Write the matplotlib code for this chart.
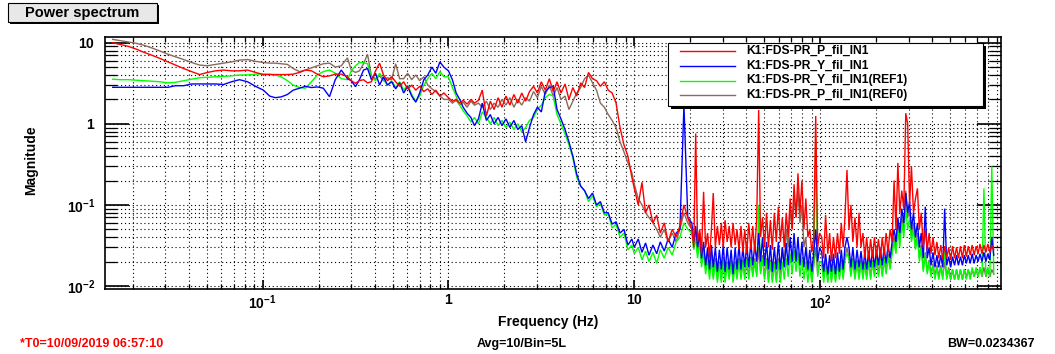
import matplotlib
matplotlib.use("Agg")
import matplotlib.pyplot as plt
from matplotlib.patches import Rectangle
from matplotlib.lines import Line2D
from matplotlib.ticker import LogLocator, NullFormatter, FixedLocator

plt.rcParams['font.family'] = ['Liberation Sans', 'DejaVu Sans']
plt.rcParams['mathtext.fontset'] = 'custom'
plt.rcParams['mathtext.rm'] = 'Liberation Sans'
plt.rcParams['mathtext.bf'] = 'Liberation Sans:bold'

# ---------------- data ----------------
freq_hz = [
    0.0156, 0.0172, 0.019, 0.021, 0.023, 0.0254, 0.028, 0.031, 0.034, 0.0376,
    0.0415, 0.0458, 0.0505, 0.0558, 0.0616, 0.068, 0.075, 0.083, 0.0915,
    0.101, 0.109, 0.117, 0.126, 0.136, 0.146, 0.158, 0.17, 0.183, 0.197,
    0.212, 0.229, 0.246, 0.265, 0.286,
    0.3, 0.316, 0.332, 0.349, 0.367, 0.385, 0.405, 0.426, 0.447, 0.47,
    0.494, 0.52, 0.546, 0.574, 0.603, 0.634, 0.667, 0.7, 0.737, 0.774,
    0.814, 0.855, 0.899, 0.945,
    1.0, 1.05, 1.1, 1.15, 1.2, 1.26, 1.32, 1.38, 1.45, 1.52,
    1.6, 1.68, 1.76, 1.85, 1.94, 2.04, 2.14, 2.25, 2.36, 2.48,
    2.6, 2.73, 2.87, 3.01, 3.16, 3.32, 3.49, 3.66, 3.84, 4.03,
    4.24, 4.45, 4.67, 4.9, 5.15, 5.4, 5.67, 5.96, 6.26, 6.57,
    6.9, 7.24, 7.6, 7.98, 8.38, 8.8, 9.24, 9.7,
    10.0, 10.5, 11.0, 11.5, 12.0, 12.6, 13.2, 13.8, 14.5, 15.2,
    16.0, 16.8, 17.6, 18.5, 19.4,
    20.4, 20.9, 21.4, 21.9, 22.5, 23.0, 23.6, 24.2, 24.8, 25.4,
    26.0, 26.6, 27.3, 28.0, 28.7, 29.4, 30.1, 30.8, 31.6, 32.4,
    33.2, 34.0, 34.9, 35.7, 36.6, 37.5, 38.4, 39.3, 40.3, 41.3,
    42.4, 43.4, 44.5, 45.6, 46.7, 47.8, 49.0, 50.2, 51.5, 52.7,
    54.0, 55.3, 56.7, 58.1, 59.6, 61.1, 62.6, 64.1, 65.7, 67.3,
    69.0, 70.7, 72.4, 74.2, 76.0, 77.9, 79.8, 81.8, 83.8, 85.9,
    88.0, 90.2, 92.4, 94.7, 97.0, 99.4,
    102, 104.5, 107, 110, 112.5, 115, 118, 121, 124, 127,
    130, 133, 136, 139.5, 143, 146.5, 150, 154, 158, 162,
    166, 170, 174, 178, 182.5, 187, 191.5, 196, 201, 206,
    211, 216, 221, 226.5, 232, 238, 244, 250, 256, 262,
    268.5, 275, 282, 289, 296, 303, 310, 318, 326, 334,
    342, 350, 359, 368, 377, 386, 395, 405, 415, 425,
    435, 446, 457, 468, 480, 492, 504, 516, 529, 542,
    555, 569, 583, 597, 612, 627, 642, 658, 674, 691,
    708, 725, 743, 761, 780, 799, 819, 839, 860,
]

p_fil_in1 = [
    10, 9.5, 9.0, 8.3, 7.6, 7.0, 6.4, 5.8, 5.3, 4.8,
    4.4, 4.05, 4.3, 4.5, 4.6, 4.5, 4.5, 4.6, 4.3,
    4.05, 4.05, 4.05, 4.05, 4.05, 4.1, 4.3, 4.6, 4.5, 4.1,
    3.8, 3.9, 4.1, 4.1, 3.8,
    3.4, 3.16, 3.4, 3.5, 3.2, 3.3, 4.5, 5.6, 4.0, 3.4,
    3.8, 3.3, 2.9, 3.3, 2.7, 3.0, 2.6, 2.9, 2.5, 2.7,
    2.3, 2.6, 2.2, 2.4,
    2.1, 1.9, 2.0, 1.8, 1.95, 1.75, 2.0, 1.8, 1.95, 2.6,
    1.25, 1.9, 1.5, 2.1, 1.6, 2.2, 1.7, 2.3, 1.8, 2.4,
    1.9, 2.5, 2.9, 2.4, 3.3, 2.6, 3.6, 2.5, 3.3, 2.4,
    3.1, 2.0, 2.8, 2.2, 3.2, 2.8, 4.3, 3.6, 3.4, 2.9,
    3.3, 2.6, 2.4, 1.8, 0.9, 0.55, 0.4, 0.22,
    0.16, 0.1, 0.19, 0.08, 0.1, 0.06, 0.075, 0.045, 0.06, 0.035,
    0.05, 0.04, 0.055, 0.1, 0.07,
    0.05, 0.03, 0.76, 0.035, 0.05, 0.025, 0.145, 0.03, 0.045, 0.022,
    0.05, 0.14, 0.03, 0.055, 0.032, 0.06, 0.03, 0.065, 0.035, 0.055,
    0.03, 0.06, 0.032, 0.05, 0.028, 0.055, 0.026, 0.05, 0.025, 0.06,
    0.028, 0.055, 0.026, 0.07, 1.48, 0.04, 0.07, 0.03, 0.08, 0.03,
    0.065, 0.028, 0.08, 0.035, 0.095, 0.035, 0.07, 0.03, 0.08, 0.04,
    0.12, 0.05, 0.18, 0.07, 0.245, 0.08, 0.2, 0.05, 0.12, 0.04,
    0.05, 0.026, 0.04, 1.25, 0.03, 0.045,
    0.04, 0.022, 0.075, 0.025, 0.045, 0.02, 0.04, 0.022, 0.045, 0.025,
    0.06, 0.03, 0.07, 0.27, 0.05, 0.1, 0.035, 0.07, 0.03, 0.08,
    0.03, 0.045, 0.022, 0.04, 0.021, 0.038, 0.022, 0.04, 0.023, 0.038,
    0.022, 0.04, 0.024, 0.045, 0.026, 0.05, 0.035, 0.2, 0.05, 0.33,
    0.08, 0.15, 0.09, 1.35, 1.0, 0.1, 0.3, 0.08, 0.12, 0.16,
    0.05, 0.08, 0.03, 0.05, 0.028, 0.045, 0.025, 0.04, 0.024, 0.035,
    0.022, 0.032, 0.021, 0.031, 0.022, 0.03, 0.021, 0.031, 0.022, 0.03,
    0.022, 0.031, 0.022, 0.032, 0.023, 0.031, 0.024, 0.032, 0.024, 0.031,
    0.025, 0.033, 0.025, 0.032, 0.026, 0.033, 0.026, 0.032, 0.028,
]

y_fil_in1 = [
    2.82, 2.82, 2.82, 2.82, 2.82, 2.82, 2.82, 2.82, 2.95, 2.95,
    3.1, 3.1, 3.1, 3.1, 3.05, 3.3, 3.5, 3.3, 2.9,
    2.6, 2.2, 2.1, 2.15, 2.3, 2.6, 2.75, 2.9, 2.8, 2.85,
    2.75, 2.16, 3.5, 4.6, 3.6,
    3.4, 2.87, 3.5, 4.6, 4.8, 3.5, 4.2, 3.0, 3.8, 3.0,
    3.3, 2.7, 3.2, 2.4, 2.9, 2.2, 1.85, 2.4, 3.5, 4.0,
    5.0, 4.2, 5.8, 5.0,
    4.5, 3.5, 2.4, 2.0, 1.6, 1.35, 1.2, 0.95, 1.15, 1.8,
    1.1, 1.3, 1.0, 1.2, 0.95, 1.15, 0.9, 1.1, 0.85, 0.95,
    0.6, 0.9, 1.3, 1.6, 1.4, 2.5, 2.8, 2.9, 1.5, 1.15,
    0.85, 0.6, 0.4, 0.24, 0.17, 0.15, 0.12, 0.14, 0.1, 0.11,
    0.08, 0.08, 0.058, 0.062, 0.045, 0.05, 0.032, 0.038,
    0.03, 0.038, 0.026, 0.034, 0.024, 0.032, 0.025, 0.035, 0.027, 0.038,
    0.03, 0.045, 0.05, 1.7, 0.07,
    0.06, 0.035, 0.055, 0.03, 0.045, 0.022, 0.035, 0.018, 0.03, 0.016,
    0.032, 0.017, 0.03, 0.015, 0.028, 0.016, 0.033, 0.015, 0.03, 0.016,
    0.028, 0.014, 0.03, 0.016, 0.032, 0.016, 0.03, 0.017, 0.033, 0.017,
    0.035, 0.018, 0.032, 0.02, 0.045, 0.02, 0.04, 0.018, 0.035, 0.016,
    0.032, 0.015, 0.03, 0.016, 0.035, 0.016, 0.03, 0.017, 0.034, 0.018,
    0.04, 0.02, 0.045, 0.02, 0.04, 0.018, 0.035, 0.017, 0.03, 0.016,
    0.028, 0.015, 0.026, 0.05, 0.02, 0.03,
    0.026, 0.015, 0.025, 0.014, 0.024, 0.015, 0.025, 0.014, 0.026, 0.015,
    0.028, 0.016, 0.03, 0.04, 0.03, 0.017, 0.03, 0.016, 0.028, 0.017,
    0.027, 0.016, 0.026, 0.016, 0.027, 0.017, 0.028, 0.017, 0.028, 0.018,
    0.029, 0.018, 0.03, 0.019, 0.032, 0.022, 0.035, 0.05, 0.035, 0.07,
    0.045, 0.09, 0.06, 0.14, 0.08, 0.11, 0.05, 0.08, 0.04, 0.06,
    0.03, 0.045, 0.022, 0.095, 0.022, 0.03, 0.018, 0.026, 0.017, 0.024,
    0.017, 0.024, 0.017, 0.09, 0.018, 0.023, 0.017, 0.023, 0.018, 0.024,
    0.018, 0.023, 0.018, 0.024, 0.019, 0.024, 0.019, 0.025, 0.019, 0.024,
    0.02, 0.025, 0.02, 0.026, 0.02, 0.025, 0.021, 0.04, 0.024,
]

y_fil_in1_ref1 = [
    3.55, 3.5, 3.5, 3.45, 3.4, 3.35, 3.3, 3.2, 3.25, 3.4,
    3.55, 3.7, 3.75, 3.8, 3.85, 3.9, 4.0, 4.0, 4.1,
    4.1, 4.1, 4.0, 3.8, 3.4, 3.0, 2.8, 2.75, 3.3, 4.0,
    4.4, 4.6, 4.2, 3.6, 3.5,
    4.5, 5.2, 5.7, 5.7, 5.5, 3.8, 3.4, 4.2, 3.5, 3.0,
    3.4, 2.8, 3.3, 2.6, 3.0, 2.3, 1.9, 2.2, 3.0, 3.6,
    4.2, 3.6, 4.4, 3.8,
    3.8, 2.8, 2.2, 1.7, 1.45, 1.25, 1.05, 1.2, 1.0, 1.4,
    1.2, 1.0, 1.2, 0.95, 1.1, 0.9, 1.05, 0.85, 1.0, 0.8,
    0.9, 1.1, 1.2, 1.5, 1.7, 2.1, 2.3, 2.2, 1.3, 1.0,
    0.75, 0.55, 0.38, 0.22, 0.17, 0.15, 0.11, 0.13, 0.095, 0.105,
    0.075, 0.078, 0.052, 0.058, 0.04, 0.045, 0.028, 0.032,
    0.025, 0.03, 0.021, 0.027, 0.02, 0.026, 0.019, 0.028, 0.022, 0.03,
    0.024, 0.035, 0.04, 0.06, 0.05,
    0.045, 0.028, 0.04, 0.022, 0.035, 0.017, 0.026, 0.014, 0.022, 0.012,
    0.021, 0.012, 0.02, 0.011, 0.019, 0.011, 0.021, 0.011, 0.019, 0.012,
    0.02, 0.011, 0.019, 0.012, 0.021, 0.012, 0.02, 0.012, 0.021, 0.012,
    0.022, 0.013, 0.02, 0.013, 0.1, 0.014, 0.022, 0.012, 0.021, 0.011,
    0.02, 0.011, 0.019, 0.011, 0.02, 0.011, 0.02, 0.012, 0.022, 0.013,
    0.025, 0.014, 0.028, 0.015, 0.026, 0.013, 0.022, 0.012, 0.02, 0.011,
    0.019, 0.011, 0.018, 0.65, 0.013, 0.02,
    0.019, 0.011, 0.018, 0.011, 0.019, 0.011, 0.018, 0.011, 0.019, 0.012,
    0.02, 0.012, 0.021, 0.025, 0.022, 0.013, 0.021, 0.012, 0.02, 0.012,
    0.02, 0.012, 0.019, 0.012, 0.02, 0.012, 0.02, 0.013, 0.021, 0.013,
    0.021, 0.013, 0.022, 0.014, 0.023, 0.016, 0.025, 0.035, 0.025, 0.05,
    0.03, 0.06, 0.04, 0.09, 0.05, 0.07, 0.035, 0.05, 0.028, 0.04,
    0.02, 0.03, 0.015, 0.025, 0.014, 0.02, 0.013, 0.018, 0.012, 0.017,
    0.012, 0.017, 0.012, 0.03, 0.012, 0.016, 0.012, 0.016, 0.012, 0.016,
    0.012, 0.016, 0.012, 0.016, 0.012, 0.016, 0.012, 0.017, 0.013, 0.017,
    0.013, 0.017, 0.013, 0.16, 0.013, 0.017, 0.013, 0.3, 0.014,
]

p_fil_in1_ref0 = [
    11.0, 10.6, 10.2, 9.8, 9.3, 8.6, 7.9, 7.2, 6.7, 6.2,
    5.7, 5.3, 5.2, 5.4, 5.6, 5.8, 6.1, 6.2, 5.9,
    5.7, 5.6, 5.6, 5.5, 5.4, 4.8, 4.4, 4.6, 4.9, 5.2,
    5.5, 5.6, 5.0, 5.2, 6.5,
    4.6, 4.3, 4.5, 5.5, 7.2, 3.9, 3.6, 3.9, 3.4, 3.7,
    3.5, 5.5, 3.6, 3.6, 4.2, 3.5, 4.0, 3.4, 3.8, 3.0,
    2.7, 2.5, 2.2, 2.0,
    2.0, 1.8, 1.95, 1.7, 1.85, 1.6, 1.9, 1.7, 1.8, 1.6,
    1.9, 1.5, 1.8, 1.6, 2.0, 1.7, 2.1, 1.6, 2.0, 1.7,
    2.1, 1.9, 2.5, 2.1, 2.9, 2.3, 3.0, 2.2, 2.8, 2.0,
    2.2, 1.5, 1.9, 2.4, 2.8, 3.6, 4.0, 3.2, 2.6, 1.8,
    1.6, 1.3, 1.1, 0.9, 0.6, 0.45, 0.33, 0.25,
    0.18, 0.12, 0.1, 0.08, 0.07, 0.06, 0.05, 0.04, 0.05, 0.035,
    0.045, 0.035, 0.05, 0.08, 0.06,
    0.05, 0.03, 0.045, 0.025, 0.04, 0.02, 0.03, 0.016, 0.025, 0.014,
    0.024, 0.013, 0.022, 0.012, 0.02, 0.012, 0.022, 0.012, 0.02, 0.013,
    0.021, 0.012, 0.02, 0.013, 0.022, 0.013, 0.021, 0.013, 0.022, 0.013,
    0.023, 0.014, 0.022, 0.014, 0.03, 0.015, 0.024, 0.013, 0.022, 0.012,
    0.021, 0.012, 0.02, 0.012, 0.022, 0.013, 0.03, 0.018, 0.05, 0.03,
    0.09, 0.05, 0.13, 0.07, 0.15, 0.06, 0.1, 0.03, 0.04, 0.015,
    0.02, 0.012, 0.018, 0.03, 0.014, 0.02,
    0.02, 0.013, 0.02, 0.012, 0.02, 0.012, 0.019, 0.012, 0.02, 0.013,
    0.021, 0.013, 0.022, 0.03, 0.022, 0.014, 0.022, 0.013, 0.021, 0.013,
    0.021, 0.013, 0.02, 0.013, 0.021, 0.013, 0.021, 0.014, 0.022, 0.014,
    0.022, 0.014, 0.023, 0.015, 0.025, 0.018, 0.028, 0.04, 0.03, 0.06,
    0.035, 0.07, 0.05, 0.15, 0.07, 0.09, 0.04, 0.06, 0.03, 0.045,
    0.022, 0.032, 0.016, 0.026, 0.015, 0.021, 0.014, 0.019, 0.013, 0.018,
    0.013, 0.018, 0.013, 0.02, 0.013, 0.017, 0.012, 0.016, 0.012, 0.016,
    0.012, 0.016, 0.012, 0.016, 0.013, 0.016, 0.013, 0.016, 0.013, 0.016,
    0.013, 0.017, 0.013, 0.017, 0.013, 0.016, 0.013, 0.016, 0.014,
]

series_labels = ["K1:FDS-PR_P_fil_IN1", "K1:FDS-PR_Y_fil_IN1",
                 "K1:FDS-PR_Y_fil_IN1(REF1)", "K1:FDS-PR_P_fil_IN1(REF0)"]
series_values = [p_fil_in1, y_fil_in1, y_fil_in1_ref1, p_fil_in1_ref0]
series_colors = ["#ff0000", "#0000ff", "#00ff00", "#8a6a5c"]

x_ticks = [0.1, 1, 10, 100]
x_tick_labels = [r"$\mathbf{10^{-1}}$", r"$\mathbf{1}$", r"$\mathbf{10}$", r"$\mathbf{10^{2}}$"]
y_ticks = [0.01, 0.1, 1, 10]
y_tick_labels = [r"$\mathbf{10^{-2}}$", r"$\mathbf{10^{-1}}$", r"$\mathbf{1}$", r"$\mathbf{10}$"]

title_text = "Power spectrum"
x_label = "Frequency (Hz)"
y_label = "Magnitude"
footer_left = "*T0=10/09/2019 06:57:10"
footer_mid = "Avg=10/Bin=5L"
footer_right = "BW=0.0234367"

for v in series_values:
    assert len(v) == len(freq_hz), (len(v), len(freq_hz))

# ---------------- figure ----------------
W, H = 1055, 354
fig = plt.figure(figsize=(W / 100, H / 100), dpi=100)
fig.patch.set_facecolor("white")

ax_l, ax_r, ax_t, ax_b = 104.7, 1000.7, 37.0, 289.0
ax = fig.add_axes([ax_l / W, (H - ax_b) / H, (ax_r - ax_l) / W, (ax_b - ax_t) / H])

# draw order: references first, red on top
for idx in [3, 2, 1, 0]:
    ax.plot(freq_hz, series_values[idx], color=series_colors[idx], lw=1.0,
            solid_joinstyle="miter", zorder=3 + (3 - idx))

ax.set_xscale("log")
ax.set_yscale("log")
ax.set_xlim(0.01413, 937)
ax.set_ylim(0.00919, 11.76)

ax.xaxis.set_major_locator(FixedLocator(x_ticks))
ax.set_xticklabels(x_tick_labels)
ax.yaxis.set_major_locator(FixedLocator(y_ticks))
ax.set_yticklabels(y_tick_labels)
ax.xaxis.set_minor_locator(LogLocator(base=10, subs=[2, 3, 4, 5, 6, 7, 8, 9], numticks=20))
ax.yaxis.set_minor_locator(LogLocator(base=10, subs=[2, 3, 4, 5, 6, 7, 8, 9], numticks=20))
ax.xaxis.set_minor_formatter(NullFormatter())
ax.yaxis.set_minor_formatter(NullFormatter())

ax.grid(True, which="both", ls=(0, (1, 2.5)), color="black", lw=0.8)
ax.set_axisbelow(True)

ax.tick_params(which="both", direction="in", top=True, right=True, colors="black")
ax.tick_params(axis="y", which="major", length=17, width=1.2, labelsize=10, pad=7)
ax.tick_params(axis="y", which="minor", length=8.5, width=0.9)
ax.tick_params(axis="x", which="major", length=6.5, width=1.2, labelsize=10, pad=3)
ax.tick_params(axis="x", which="minor", length=3.5, width=0.9)
for sp in ax.spines.values():
    sp.set_linewidth(1.2)
    sp.set_color("black")

ax.set_xlabel(x_label, fontsize=10, fontweight="bold")
ax.xaxis.set_label_coords((548 - ax_l) / (ax_r - ax_l), (ax_b - 322) / (ax_b - ax_t))
ax.xaxis.label.set_va("center")
ax.set_ylabel(y_label, fontsize=10, fontweight="bold")
ax.yaxis.set_label_coords((31 - ax_l) / (ax_r - ax_l), (ax_b - 160) / (ax_b - ax_t))
ax.yaxis.label.set_va("center")

# ---------------- title box ----------------
def fig_rect(x0, y0, x1, y1, **kw):
    return Rectangle((x0 / W, 1 - y1 / H), (x1 - x0) / W, (y1 - y0) / H,
                     transform=fig.transFigure, **kw)

fig.add_artist(fig_rect(10, 5, 159, 24, facecolor="black", edgecolor="none", zorder=5))
fig.add_artist(fig_rect(8, 3, 157, 22, facecolor="#e8e8e8", edgecolor="black", lw=0.8, zorder=6))
fig.text((8 + 157) / 2 / W, 1 - 12.5 / H, title_text, ha="center", va="center",
         fontsize=10.5, fontweight="bold", zorder=7)

# ---------------- legend ----------------
lx0, ly0, lx1, ly1 = 668, 43, 983, 106
fig.add_artist(fig_rect(lx0 + 3, ly0 + 3, lx1 + 3, ly1 + 3, facecolor="black", edgecolor="none", zorder=10))
fig.add_artist(fig_rect(lx0, ly0, lx1, ly1, facecolor="white", edgecolor="black", lw=0.8, zorder=11))
row_y = [50.7, 65.5, 80.5, 95.3]
for lab, col, ry in zip(series_labels, series_colors, row_y):
    fig.add_artist(Line2D([680 / W, 735 / W], [1 - ry / H, 1 - ry / H], color=col, lw=1.0,
                          transform=fig.transFigure, zorder=12))
    fig.text(746 / W, 1 - ry / H, lab, ha="left", va="center", fontsize=8.7,
             fontweight="bold", zorder=12)

# ---------------- footer ----------------
fig.text(20 / W, 1 - 344 / H, footer_left, ha="left", va="center", fontsize=9,
         fontweight="bold", color="#ff0000")
fig.text(522 / W, 1 - 344 / H, footer_mid, ha="center", va="center", fontsize=9,
         fontweight="bold", color="black")
fig.text(1035 / W, 1 - 344 / H, footer_right, ha="right", va="center", fontsize=9,
         fontweight="bold", color="black")

fig.savefig("out.png", dpi=100)
